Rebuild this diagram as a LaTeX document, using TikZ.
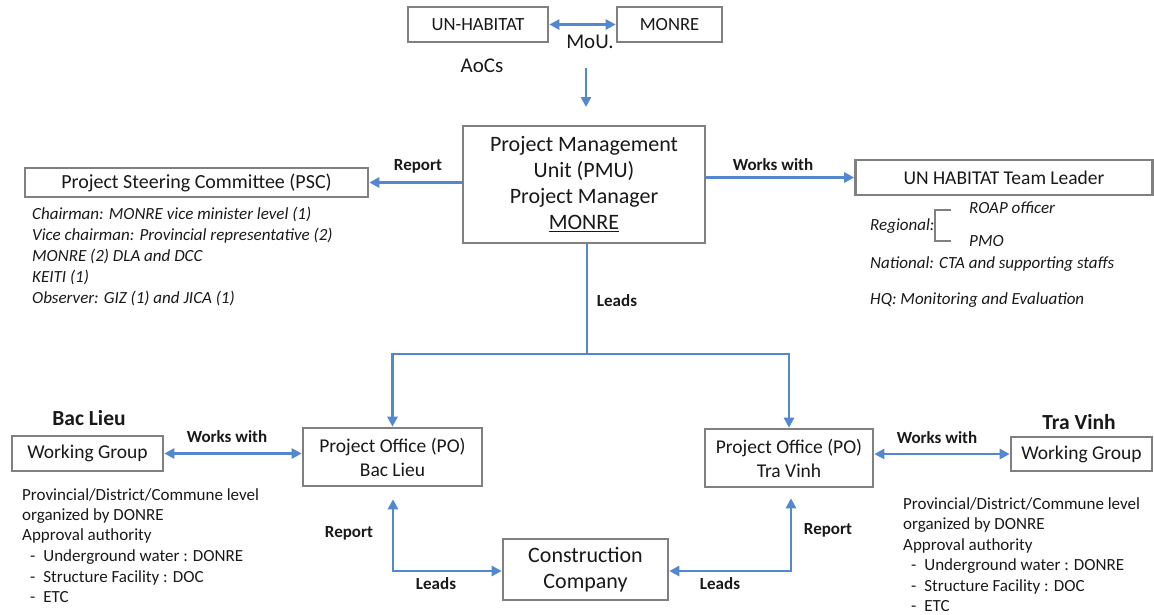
\documentclass[tikz,border=0pt]{standalone}
\usepackage{fontspec}
\setmainfont{Carlito}
\usetikzlibrary{arrows.meta}
\definecolor{boxgray}{RGB}{128,128,128}
\definecolor{arrblue}{RGB}{83,136,208}
\definecolor{txt}{RGB}{25,25,25}
\begin{document}
\begin{tikzpicture}[x=1pt,y=-1pt,
  box/.style={draw=boxgray, line width=2.6pt, fill=white, text=txt, align=center, inner sep=0pt},
  conn/.style={draw=arrblue, line width=2.6pt},
  arr/.style={conn, -{Triangle[length=10pt,width=10pt]}},
  arrtwo/.style={conn, {Triangle[length=10pt,width=10pt]}-{Triangle[length=10pt,width=10pt]}},
  lbl/.style={font=\bfseries\fontsize{17}{19}\selectfont, text=txt, inner sep=0pt},
  big/.style={font=\fontsize{21}{23}\selectfont, text=txt, inner sep=0pt},
  place/.style={font=\bfseries\fontsize{21.5}{23}\selectfont, text=txt, inner sep=0pt},
  body/.style={anchor=base west, font=\fontsize{17}{19}\selectfont, text=txt, inner sep=0pt},
  ital/.style={anchor=base west, font=\itshape\fontsize{17}{19}\selectfont, text=txt, inner sep=0pt}
]
\useasboundingbox (0,0) rectangle (1154,614);

% top boxes
\node[box, minimum width=140pt, minimum height=35pt, font=\fontsize{18.6}{20}\selectfont] (unh) at (478,24.5) {UN-HABITAT};
\node[box, minimum width=105pt, minimum height=35pt, font=\fontsize{18.6}{20}\selectfont] (monre) at (669.5,24.5) {MONRE};
\node[big] (mou) at (590,42) {MoU.};
\node[big] (aocs) at (482,66) {AoCs};
\coordinate (aocsTop) at (586,68);
\coordinate (aocsTip) at (586,107);

% PMU
\node[box, minimum width=242pt, minimum height=117pt, font=\fontsize{22}{26}\selectfont] (pmu) at (584,184.5)
  {Project Management\\Unit (PMU)\\Project Manager\\\underline{MONRE}};

\node[box, minimum width=343pt, minimum height=29pt, font=\fontsize{20}{22}\selectfont] (psc) at (196.5,182.5) {Project Steering Committee (PSC)};
\node[box, minimum width=297pt, minimum height=35pt, font=\fontsize{19.5}{22}\selectfont] (tl) at (1004,177.5) {UN HABITAT Team Leader};

% PO boxes
\node[box, minimum width=179pt, minimum height=58pt, font=\fontsize{19.5}{24}\selectfont] (pobl) at (392.5,457) {Project Office (PO)\\Bac Lieu};
\node[box, minimum width=168pt, minimum height=58pt, font=\fontsize{19.5}{24}\selectfont] (potv) at (789,458) {Project Office (PO)\\Tra Vinh};

% working groups
\node[box, minimum width=151pt, minimum height=35pt, font=\fontsize{19.5}{22}\selectfont] (wgl) at (87.5,453.5) {Working Group};
\node[box, minimum width=141pt, minimum height=34pt, font=\fontsize{19.5}{22}\selectfont] (wgr) at (1081.5,454) {Working Group};
\node[place] (bl-title) at (89,418) {Bac Lieu};
\node[place] (tv-title) at (1079,422) {Tra Vinh};

% construction company
\node[box, minimum width=165pt, minimum height=61pt, font=\fontsize{22}{26}\selectfont] (cc) at (585.5,569.5) {Construction\\Company};

% connectors
\draw[arrtwo] (unh.east) -- (monre.west);
\draw[arr] (aocsTop) -- (aocsTip);
\draw[arr] (pmu.west |- psc.east) -- (psc.east);
\draw[arr] (pmu.east |- tl.west) -- (tl.west);
\coordinate (split) at (587,354);
\draw[conn] (pmu.south -| split) -- (split);
\draw[arr] (split) -| (pobl.north);
\draw[arr] (split) -| (potv.north);
\draw[arrtwo] (wgl.east) -- (wgl.east -| pobl.west);
\draw[arrtwo] (potv.east |- wgr.west) -- (wgr.west);
\coordinate (bl) at (393,571);
\coordinate (br) at (791,571);
\draw[arrtwo, shorten <=12pt] (pobl.south -| bl) -- (bl) -- (cc.west |- bl);
\draw[arrtwo, shorten >=10pt] (cc.east |- br) -- (br) -- (potv.south -| br);

% connector labels
\node[lbl] (l1) at (418,166) {Report};
\node[lbl] (l2) at (773,165) {Works with};
\node[lbl] (l3) at (617,301) {Leads};
\node[lbl] (l4) at (227,437) {Works with};
\node[lbl] (l5) at (937,438) {Works with};
\node[lbl] (l6) at (349,533) {Report};
\node[lbl] (l7) at (436,584) {Leads};
\node[lbl] (l8) at (828,530) {Report};
\node[lbl] (l9) at (720,584) {Leads};

% PSC members
\node[ital] (p1) at (32,219) {Chairman: MONRE vice minister level (1)};
\node[ital] (p2) at (32,240) {Vice chairman: Provincial representative (2)};
\node[ital] (p3) at (32,261) {MONRE (2) DLA and DCC};
\node[ital] (p4) at (32,282) {KEITI (1)};
\node[ital] (p5) at (32,303) {Observer: GIZ (1) and JICA (1)};

% UN Habitat team
\node[ital] (u1) at (969,213) {ROAP officer};
\node[ital] (u2) at (870,230) {Regional:};
\node[ital] (u3) at (969,246) {PMO};
\node[ital] (u4) at (870,268) {National: CTA and supporting staffs};
\node[ital] (u5) at (870,304) {HQ: Monitoring and Evaluation};
\draw[boxgray, line width=2.6pt] (951,210) -- (935,210) -- (935,241) -- (951,241);

% Bac Lieu notes
\node[body] (b1) at (22,500) {Provincial/District/Commune level};
\node[body] (b2) at (22,520) {organized by DONRE};
\node[body] (b3) at (22,540) {Approval authority};
\node[body] (b4) at (22,561) {\hspace*{8pt}-\hspace{8pt}Underground water : DONRE};
\node[body] (b5) at (22,582) {\hspace*{8pt}-\hspace{8pt}Structure Facility : DOC};
\node[body] (b6) at (22,602) {\hspace*{8pt}-\hspace{8pt}ETC};

% Tra Vinh notes
\node[body] (t1) at (903,509) {Provincial/District/Commune level};
\node[body] (t2) at (903,529) {organized by DONRE};
\node[body] (t3) at (903,550) {Approval authority};
\node[body] (t4) at (903,570) {\hspace*{8pt}-\hspace{8pt}Underground water : DONRE};
\node[body] (t5) at (903,591) {\hspace*{8pt}-\hspace{8pt}Structure Facility : DOC};
\node[body] (t6) at (903,611) {\hspace*{8pt}-\hspace{8pt}ETC};
\end{tikzpicture}
\end{document}
